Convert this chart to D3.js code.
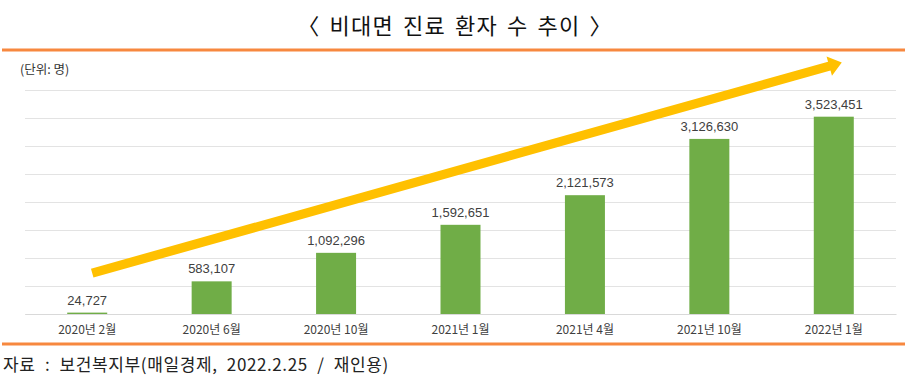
<!DOCTYPE html>
<html>
<head>
<meta charset="UTF-8">
<title>비대면 진료 환자 수 추이</title>
<script src="https://cdn.jsdelivr.net/npm/d3@7"></script>
<style>
  body { margin: 0; background: #fff; }
  svg { display: block; }
</style>
</head>
<body>
<svg width="905" height="387"></svg>
<script>
// 데이터
var months = ["2020년 2월", "2020년 6월", "2020년 10월", "2021년 1월", "2021년 4월", "2021년 10월", "2022년 1월"];
var patients = [24727, 583107, 1092296, 1592651, 2121573, 3126630, 3523451];
var gridTicks = [0, 500000, 1000000, 1500000, 2000000, 2500000, 3000000, 3500000, 4000000];
// 추세 화살표 (시작/끝 값)
var trendFrom = 730000, trendTo = 4490000;

var svg = d3.select("svg");
var marge = {top: 90, bottom: 73, left: 25, right: 9};
var width = +svg.attr("width");
var height = +svg.attr("height");

var x = d3.scaleBand().domain(months)
  .range([marge.left, width - marge.right]).paddingInner(0).paddingOuter(0);
var y = d3.scaleLinear().domain([0, 4000000])
  .range([height - marge.bottom, marge.top]);

// 제목
svg.append("text")
  .attr("x", 455).attr("y", 34)
  .attr("text-anchor", "middle")
  .attr("font-family", "'Noto Sans CJK KR', sans-serif")
  .attr("font-size", 22)
  .attr("letter-spacing", 1.2)
  .attr("word-spacing", 3)
  .attr("fill", "#111")
  .text("〈 비대면 진료 환자 수 추이 〉");

// 주황색 구분선
svg.append("line").attr("x1", 2).attr("x2", 905).attr("y1", 50).attr("y2", 50)
  .attr("stroke", "#F7883F").attr("stroke-width", 3);
svg.append("line").attr("x1", 2).attr("x2", 905).attr("y1", 344).attr("y2", 344)
  .attr("stroke", "#F7883F").attr("stroke-width", 3);

svg.append("text")
  .attr("x", 20).attr("y", 74)
  .attr("font-family", "'Noto Sans CJK KR', sans-serif")
  .attr("font-size", 12.5)
  .attr("fill", "#333")
  .text("(단위: 명)");

// 격자선
svg.append("g")
  .attr("transform", "translate(" + marge.left + ",0)")
  .call(d3.axisLeft(y).tickValues(gridTicks).tickSize(-(width - marge.left - marge.right)).tickFormat(""))
  .call(function(g){
    g.select(".domain").remove();
    g.selectAll(".tick line").attr("stroke", "#e3e3e3").attr("stroke-width", 1.2);
  });

// 막대
var barW = 40;
svg.append("g").selectAll("rect")
  .data(patients)
  .enter()
  .append("rect")
  .attr("x", function(d, i){ return x(months[i]) + x.bandwidth() / 2 - barW / 2; })
  .attr("y", function(d){ return y(d); })
  .attr("width", barW)
  .attr("height", function(d){ return y(0) - y(d); })
  .attr("fill", "#70AD47");

// 값 레이블
svg.append("g").selectAll("text")
  .data(patients)
  .enter()
  .append("text")
  .attr("x", function(d, i){ return x(months[i]) + x.bandwidth() / 2; })
  .attr("y", function(d){ return y(d) - 8; })
  .attr("text-anchor", "middle")
  .attr("font-family", "'Liberation Sans', Arial, sans-serif")
  .attr("font-size", 13)
  .attr("fill", "#404040")
  .text(function(d){ return d3.format(",")(d); });

// x축 레이블
var xAxis = svg.append("g")
  .attr("transform", "translate(0," + y(0) + ")")
  .call(d3.axisBottom(x).tickSize(0).tickPadding(11));
xAxis.select(".domain").attr("stroke", "#d9d9d9").attr("stroke-width", 1.2);
xAxis.selectAll("text")
  .attr("font-family", "'Noto Sans CJK KR', sans-serif")
  .attr("font-size", 12)
  .attr("fill", "#404040");

// 추세 화살표
var x0 = x(months[0]) + x.bandwidth() / 2 + 5;
var x1 = x(months[months.length - 1]) + x.bandwidth() / 2 + 8;
var y0 = y(trendFrom), y1 = y(trendTo);
var ang = Math.atan2(y1 - y0, x1 - x0);
var len = Math.hypot(x1 - x0, y1 - y0);
var headL = 13, headW = 10, shaftW = 4.6;
var arrow = svg.append("g")
  .attr("transform", "translate(" + x0 + "," + y0 + ") rotate(" + (ang * 180 / Math.PI) + ")");
arrow.append("path")
  .attr("d", "M0," + (-shaftW) + "L" + (len - headL) + "," + (-shaftW) +
    "L" + (len - headL) + "," + (-headW) + "L" + len + ",0L" + (len - headL) + "," + headW +
    "L" + (len - headL) + "," + shaftW + "L0," + shaftW + "Z")
  .attr("fill", "#FFC000");

// 출처
svg.append("text")
  .attr("x", 3).attr("y", 371)
  .attr("font-family", "'Noto Sans CJK KR', sans-serif")
  .attr("font-size", 17)
  .attr("letter-spacing", 0.6)
  .attr("word-spacing", 5)
  .attr("fill", "#222")
  .text("자료 : 보건복지부(매일경제, 2022.2.25 / 재인용)");
</script>
</body>
</html>
